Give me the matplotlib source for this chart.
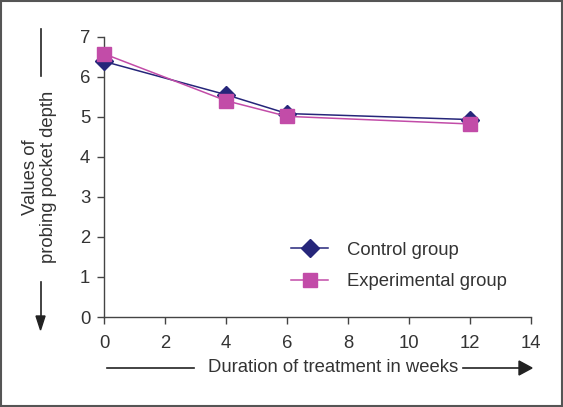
import matplotlib.pyplot as plt
from matplotlib.patches import Rectangle

plt.rcParams['font.family'] = ['Liberation Sans', 'DejaVu Sans']

# Data
weeks = [0, 4, 6, 12]
control = [6.38, 5.55, 5.08, 4.93]
experimental = [6.57, 5.40, 5.01, 4.82]
x_ticks = [0, 2, 4, 6, 8, 10, 12, 14]
y_ticks = [0, 1, 2, 3, 4, 5, 6, 7]

navy = '#26267a'
magenta = '#c24ca8'
txt = '#333333'
fs = 13.3

fig = plt.figure(figsize=(5.63, 4.07), dpi=100)
ax = fig.add_axes([0.185, 0.221, 0.758, 0.689])

ax.plot(weeks, control, color=navy, lw=1.1, marker='D', markersize=9.5,
        label='Control group', zorder=3, clip_on=False)
ax.plot(weeks, experimental, color=magenta, lw=1.1, marker='s', markersize=10,
        label='Experimental group', zorder=4, clip_on=False)

ax.set_xlim(0, 14)
ax.set_ylim(0, 7)
ax.set_xticks(x_ticks)
ax.set_yticks(y_ticks)
for s in ['top', 'right']:
    ax.spines[s].set_visible(False)
for s in ['left', 'bottom']:
    ax.spines[s].set_color('#444444')
    ax.spines[s].set_linewidth(1.0)
ax.tick_params(direction='out', length=5, width=1, colors='#444444',
               labelcolor=txt, labelsize=fs)
ax.tick_params(axis='x', pad=8)
ax.tick_params(axis='y', pad=5)

ax.legend(loc='upper left', bbox_to_anchor=(0.40, 0.328), frameon=False,
          fontsize=fs, handlelength=2.0, handletextpad=1.0, labelspacing=0.8,
          labelcolor=txt)

# y label with arrow
fig.text(0.07, 0.565, 'Values of\nprobing pocket depth', rotation=90,
         ha='center', va='center', fontsize=fs, color=txt, linespacing=1.05)
fig.add_artist(plt.Line2D([0.072, 0.072], [1 - 29 / 407, 1 - 76 / 407],
                          color='#222222', lw=1.2))
fig.add_artist(plt.Line2D([0.072, 0.072], [1 - 282 / 407, 1 - 318 / 407],
                          color='#222222', lw=1.2))
fig.add_artist(plt.Polygon([[0.064, 1 - 316 / 407], [0.080, 1 - 316 / 407],
                            [0.072, 1 - 330 / 407]], closed=True,
                           color='#222222'))

# x label with arrow
fig.text(333.5 / 563, 1 - 368 / 407, 'Duration of treatment in weeks',
         ha='center', va='center', fontsize=fs, color=txt)
fig.add_artist(plt.Line2D([107 / 563, 194 / 563], [1 - 368 / 407] * 2,
                          color='#222222', lw=1.2))
fig.add_artist(plt.Line2D([463 / 563, 520 / 563], [1 - 368 / 407] * 2,
                          color='#222222', lw=1.2))
fig.add_artist(plt.Polygon([[519 / 563, 1 - 361 / 407], [519 / 563, 1 - 375 / 407],
                            [532 / 563, 1 - 368 / 407]], closed=True,
                           color='#222222'))

# outer frame
fig.add_artist(Rectangle((0.002, 0.003), 0.996, 0.994, transform=fig.transFigure,
                         fill=False, edgecolor='#555555', lw=1.5))

fig.savefig('out.png', dpi=100)
